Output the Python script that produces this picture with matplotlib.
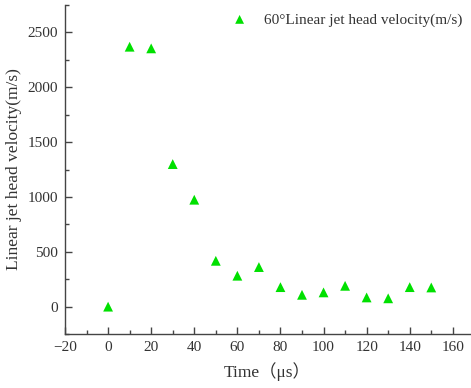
import matplotlib
matplotlib.use("Agg")
import matplotlib.pyplot as plt
from matplotlib.ticker import MultipleLocator

time_us = [0, 10, 20, 30, 40, 50, 60, 70, 80, 90, 100, 110, 120, 130, 140, 150]
velocity = [0, 2370, 2355, 1300, 975, 418, 282, 361, 178, 108, 130, 190, 84, 76, 178, 175]
series_label = "60°Linear jet head velocity(m/s)"
x_label = "Time（μs）"
y_label = "Linear jet head velocity(m/s)"

plt.rcParams['font.family'] = ['Liberation Serif', 'Noto Sans CJK SC', 'DejaVu Sans']
text_color = '#333333'

fig = plt.figure(figsize=(4.71, 3.88), dpi=100)
ax = fig.add_axes([0.138, 0.139, 0.860, 0.848])
ax.scatter(time_us, velocity, marker='^', s=50, color='#00e000', edgecolors='none',
           label=series_label, zorder=3)

ax.set_xlim(-20, 168)
ax.set_ylim(-250, 2750)
ax.xaxis.set_major_locator(MultipleLocator(20))
ax.xaxis.set_minor_locator(MultipleLocator(10))
ax.yaxis.set_major_locator(MultipleLocator(500))
ax.yaxis.set_minor_locator(MultipleLocator(250))

for s in ['top', 'right']:
    ax.spines[s].set_visible(False)
for s in ['left', 'bottom']:
    ax.spines[s].set_color('#444444')
    ax.spines[s].set_linewidth(1.0)

ax.tick_params(which='major', direction='in', length=5, width=1, colors='#444444',
               labelsize=11, labelcolor=text_color, pad=5)
ax.tick_params(which='minor', direction='in', length=3, width=1, colors='#444444')

ax.set_xlabel(x_label, fontsize=12.5, color=text_color, labelpad=6)
ax.set_ylabel(y_label, fontsize=12.5, color=text_color, labelpad=4)

leg = ax.legend(loc='upper right', frameon=False, fontsize=11, handletextpad=0.6,
                borderaxespad=0.1, markerscale=0.9)
for t in leg.get_texts():
    t.set_color(text_color)

fig.savefig("out.png", dpi=100)
